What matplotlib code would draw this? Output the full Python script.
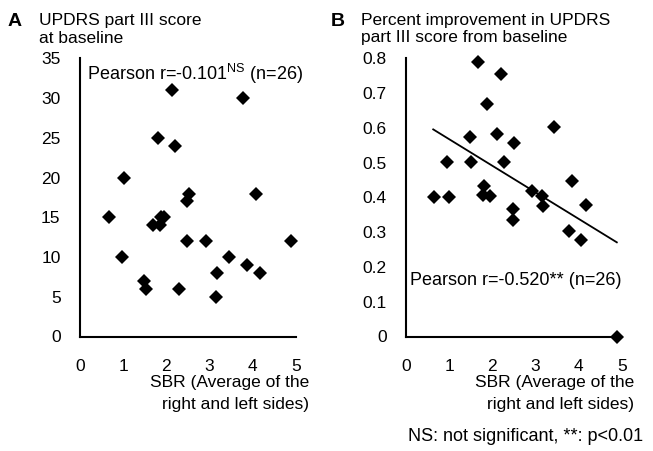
import matplotlib
matplotlib.use("Agg")
import matplotlib.pyplot as plt

plt.rcParams['font.family'] = ['Liberation Sans', 'DejaVu Sans']
plt.rcParams['mathtext.fontset'] = 'custom'
plt.rcParams['mathtext.rm'] = 'Liberation Sans'
plt.rcParams['mathtext.it'] = 'Liberation Sans:italic'
plt.rcParams['mathtext.bf'] = 'Liberation Sans:bold'

# ---- data ----
sbr = [2.14, 3.78, 1.80, 2.20, 1.03, 2.53, 2.47, 4.07, 0.66, 1.95, 1.87, 1.68, 1.85,
       2.47, 2.92, 4.88, 0.97, 3.45, 3.86, 3.18, 4.17, 1.48, 1.53, 2.29, 3.14]
updrs_baseline = [31, 30, 25, 24, 20, 18, 17, 18, 15, 15, 15, 14, 14,
                  12, 12, 12, 10, 10, 9, 8, 8, 7, 6, 6, 5]

sbr_b = [1.66, 2.20, 1.88, 3.43, 1.47, 2.10, 2.50, 0.96, 1.50, 2.28, 3.84, 1.81, 2.91,
         0.65, 1.00, 1.78, 1.94, 3.14, 3.16, 4.17, 2.48, 2.47, 3.77, 4.05, 4.88]
improvement = [0.789, 0.755, 0.669, 0.602, 0.573, 0.582, 0.558, 0.501, 0.501, 0.501, 0.447,
               0.433, 0.420, 0.402, 0.402, 0.406, 0.404, 0.404, 0.376, 0.378, 0.366, 0.335,
               0.304, 0.278, 0.0]
trend_x = [0.63, 4.88]
trend_y = [0.596, 0.271]

xticks = [0, 1, 2, 3, 4, 5]
yticks_a = [0, 5, 10, 15, 20, 25, 30, 35]
yticks_b = [0, 0.1, 0.2, 0.3, 0.4, 0.5, 0.6, 0.7, 0.8]
ytick_labels_b = ['0', '0.1', '0.2', '0.3', '0.4', '0.5', '0.6', '0.7', '0.8']

W, H = 653, 451
fig = plt.figure(figsize=(W / 100, H / 100), dpi=100)

def fx(px):
    return px / W

def fy(py):
    return 1 - py / H

axA = fig.add_axes([fx(80), fy(336.5), 216 / W, 278 / H])
axB = fig.add_axes([fx(406), fy(336.5), 216 / W, 278 / H])

FS = 12.5
for ax in (axA, axB):
    for s in ('top', 'right'):
        ax.spines[s].set_visible(False)
    for s in ('left', 'bottom'):
        ax.spines[s].set_linewidth(1.5)
        ax.spines[s].set_color('black')
    ax.set_xlim(0, 5)
    ax.set_xticks(xticks)
    ax.set_xticklabels([str(t) for t in xticks])
    ax.tick_params(axis='both', length=0, labelsize=FS, colors='black')
    ax.tick_params(axis='x', pad=16)
    ax.tick_params(axis='y', pad=14)
    ax.set_facecolor('none')

axA.set_ylim(0, 35)
axA.set_yticks(yticks_a)
axA.set_yticklabels([str(t) for t in yticks_a])
axA.plot(sbr, updrs_baseline, linestyle='none', marker='D', ms=7, mew=0,
         color='black', clip_on=False)
axA.text(0.16, 32.35, r'Pearson r=-0.101$^{\mathrm{NS}}$ (n=26)', fontsize=13,
         va='baseline', ha='left')

axB.set_ylim(0, 0.8)
axB.set_yticks(yticks_b)
axB.set_yticklabels(ytick_labels_b)
axB.plot(trend_x, trend_y, color='black', linewidth=1.3, clip_on=False)
axB.plot(sbr_b, improvement, linestyle='none', marker='D', ms=7, mew=0,
         color='black', clip_on=False)
axB.text(0.09, 0.148, 'Pearson r=-0.520** (n=26)', fontsize=13,
         va='baseline', ha='left')

# panel titles
fig.text(fx(8), fy(26), 'A', fontsize=14, fontweight='bold', va='baseline')
fig.text(fx(39), fy(25), 'UPDRS part III score', fontsize=FS, va='baseline')
fig.text(fx(39), fy(43), 'at baseline', fontsize=FS, va='baseline')
fig.text(fx(331), fy(26), 'B', fontsize=14, fontweight='bold', va='baseline')
fig.text(fx(361), fy(24.5), 'Percent improvement in UPDRS', fontsize=FS, va='baseline')
fig.text(fx(361), fy(42), 'part III score from baseline', fontsize=FS, va='baseline')

# x-axis labels
for right in (309, 634):
    fig.text(fx(right), fy(387), 'SBR (Average of the', fontsize=FS, ha='right', va='baseline')
    fig.text(fx(right), fy(408.5), 'right and left sides)', fontsize=FS, ha='right', va='baseline')

fig.text(fx(643), fy(441), 'NS: not significant, **: p<0.01', fontsize=13,
         ha='right', va='baseline')

fig.savefig('out.png', dpi=100, facecolor='white')
